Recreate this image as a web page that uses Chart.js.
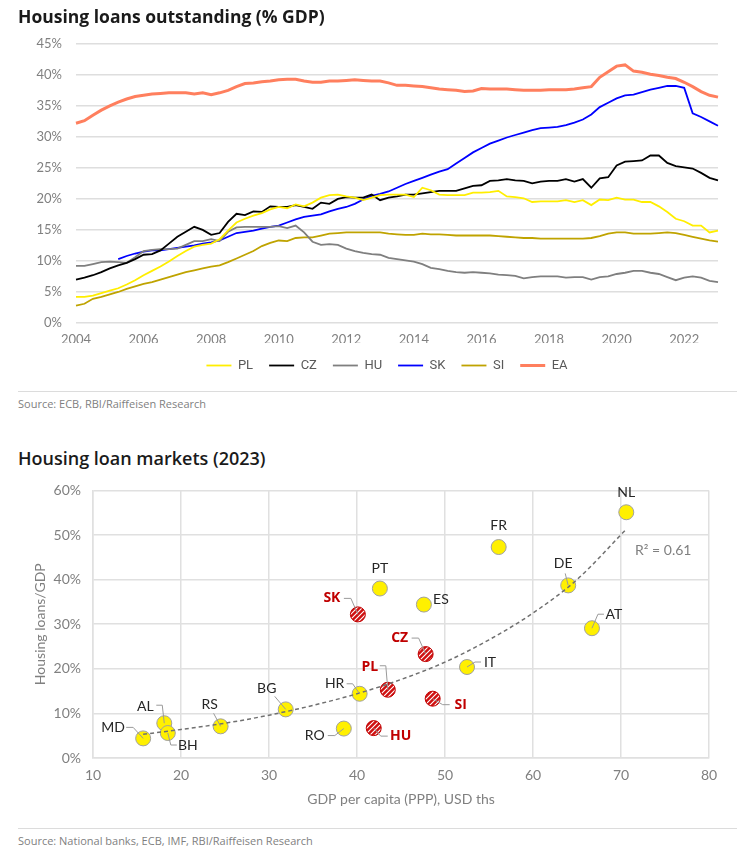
<!DOCTYPE html>
<html>
<head>
<meta charset="utf-8">
<script src="https://cdn.jsdelivr.net/npm/chart.js@4.4.1/dist/chart.umd.min.js"></script>
<style>
  body { margin: 0; width: 750px; height: 868px; background: #fff; position: relative; font-family: 'Open Sans', sans-serif; overflow: hidden; }
  .title { position: absolute; left: 18px; color: #1a1a1a; font-weight: 700; }
  .src { position: absolute; left: 18px; font-size: 11px; color: #7f7f7f; }
  .rule { position: absolute; left: 18px; width: 719px; height: 1px; background: #dcdcdc; }
  .box { position: absolute; left: 0; width: 750px; }
</style>
</head>
<body>
<div class="box" style="top:22px;height:360px;"><canvas id="lines"></canvas></div>
<div class="title" style="top:4px;font-size:17.5px;">Housing loans outstanding (% GDP)</div>
<div class="rule" style="top:391px;"></div>
<div class="src" style="top:396px;">Source: ECB, RBI/Raiffeisen Research</div>

<div class="title" style="top:446px;font-size:18px;font-weight:600;">Housing loan markets (2023)</div>
<div class="box" style="top:470px;height:345px;"><canvas id="scatter"></canvas></div>
<div class="rule" style="top:828px;"></div>
<div class="src" style="top:833px;">Source: National banks, ECB, IMF, RBI/Raiffeisen Research</div>

<script>
// quarterly values, 2004Q1 .. 2023Q1 (% of GDP)
const quarters = [];
for (let y = 2004; y <= 2023; y++) {
  for (let q = 1; q <= 4; q++) {
    if (y === 2023 && q > 1) break;
    quarters.push(y + 'Q' + q);
  }
}

const pl = [4.2, 4.2, 4.4, 4.8, 5.2, 5.6, 6.2, 6.9, 7.7, 8.4, 9.1, 9.9, 10.8, 11.6, 12.3, 12.6, 12.8, 13.5, 14.9, 16.2,
  16.8, 17.3, 17.7, 18.3, 18.7, 18.5, 19.1, 18.8, 19.4, 20.2, 20.6, 20.7, 20.4, 20.2, 19.8, 20.2, 20.6, 20.7, 20.7, 20.7,
  20.3, 21.8, 21.4, 20.7, 20.6, 20.6, 20.6, 21.0, 21.0, 21.1, 21.3, 20.4, 20.3, 20.1, 19.5, 19.6, 19.6, 19.6, 19.8, 19.5,
  19.8, 19.0, 19.9, 19.8, 20.2, 19.9, 19.9, 19.5, 19.5, 18.8, 17.9, 16.8, 16.4, 15.7, 15.7, 14.6, 14.9];
const cz = [7.0, 7.3, 7.7, 8.2, 8.8, 9.3, 9.7, 10.3, 11.0, 11.1, 11.7, 12.8, 13.9, 14.7, 15.5, 15.0, 14.2, 14.5, 16.3, 17.6,
  17.4, 18.0, 17.9, 18.8, 18.7, 18.7, 19.0, 18.7, 18.4, 19.4, 19.2, 20.0, 20.3, 20.2, 20.2, 20.7, 19.8, 20.2, 20.4, 20.7,
  20.7, 20.9, 21.1, 21.3, 21.3, 21.3, 21.7, 22.1, 22.2, 22.9, 23.0, 23.2, 23.0, 22.9, 22.5, 22.8, 22.9, 22.9, 23.2, 22.8,
  23.2, 21.8, 23.3, 23.5, 25.4, 26.0, 26.1, 26.2, 27.0, 27.0, 25.8, 25.3, 25.1, 24.9, 24.2, 23.4, 23.0];
const hu = [9.2, 9.2, 9.5, 9.8, 9.9, 9.8, 9.7, 10.6, 11.6, 11.8, 11.9, 11.9, 12.0, 12.6, 13.2, 13.2, 13.5, 13.2, 14.7, 15.4,
  15.5, 15.5, 15.5, 15.5, 15.6, 15.3, 15.7, 14.6, 13.1, 12.6, 12.7, 12.6, 12.0, 11.6, 11.3, 11.1, 11.0, 10.5, 10.3, 10.1,
  9.9, 9.5, 8.9, 8.7, 8.4, 8.2, 8.1, 8.2, 8.1, 8.0, 7.8, 7.7, 7.6, 7.2, 7.4, 7.5, 7.5, 7.5, 7.3, 7.4,
  7.4, 7.0, 7.4, 7.5, 7.9, 8.1, 8.4, 8.4, 8.1, 7.9, 7.4, 6.9, 7.3, 7.5, 7.3, 6.8, 6.6];
const sk = [null, null, null, null, null, 10.3, 10.8, 11.2, 11.5, 11.7, 11.7, 11.9, 12.1, 12.3, 12.5, 12.8, 13.0, 13.3, 13.9, 14.5,
  14.7, 14.9, 15.2, 15.5, 15.7, 16.2, 16.7, 17.1, 17.3, 17.5, 18.0, 18.4, 18.7, 19.2, 19.9, 20.5, 20.8, 21.2, 21.8, 22.4,
  22.9, 23.4, 23.9, 24.4, 24.8, 25.7, 26.6, 27.5, 28.2, 28.9, 29.4, 29.9, 30.3, 30.7, 31.1, 31.4, 31.5, 31.6, 31.9, 32.3,
  32.8, 33.6, 34.8, 35.5, 36.2, 36.7, 36.8, 37.2, 37.6, 37.9, 38.2, 38.2, 37.9, 33.8, 33.2, 32.5, 31.8];
const si = [2.8, 3.1, 3.9, 4.2, 4.6, 5.0, 5.5, 5.9, 6.3, 6.6, 7.0, 7.4, 7.8, 8.2, 8.5, 8.8, 9.1, 9.3, 9.8, 10.4,
  11.0, 11.6, 12.4, 12.9, 13.3, 13.2, 13.7, 13.8, 13.8, 14.1, 14.4, 14.5, 14.6, 14.6, 14.6, 14.6, 14.6, 14.4, 14.3, 14.2,
  14.2, 14.4, 14.3, 14.3, 14.2, 14.1, 14.1, 14.1, 14.1, 14.1, 14.0, 13.9, 13.8, 13.7, 13.7, 13.6, 13.6, 13.6, 13.6, 13.6,
  13.6, 13.7, 14.0, 14.4, 14.6, 14.6, 14.4, 14.4, 14.4, 14.5, 14.6, 14.5, 14.2, 13.9, 13.6, 13.3, 13.1];
const ea = [32.2, 32.6, 33.5, 34.3, 35.0, 35.6, 36.1, 36.5, 36.7, 36.9, 37.0, 37.1, 37.1, 37.1, 36.9, 37.1, 36.8, 37.1, 37.5, 38.1,
  38.6, 38.7, 38.9, 39.0, 39.2, 39.3, 39.3, 39.0, 38.8, 38.8, 39.0, 39.0, 39.1, 39.2, 39.1, 39.0, 39.0, 38.7, 38.3, 38.3,
  38.2, 38.1, 37.9, 37.7, 37.6, 37.5, 37.3, 37.4, 37.8, 37.7, 37.7, 37.7, 37.6, 37.5, 37.5, 37.5, 37.6, 37.6, 37.6, 37.7,
  37.9, 38.1, 39.6, 40.5, 41.4, 41.6, 40.6, 40.4, 40.1, 39.9, 39.6, 39.4, 38.8, 38.1, 37.3, 36.7, 36.4];

// scatter: GDP per capita (PPP, USD ths) vs housing loans/GDP (%)
const otherNames = ['MD', 'AL', 'BH', 'RS', 'BG', 'HR', 'RO', 'PT', 'ES', 'IT', 'FR', 'DE', 'AT', 'NL'];
const otherGdp   = [15.7, 18.1, 18.5, 24.5, 31.9, 40.3, 38.5, 42.6, 47.6, 52.5, 56.1, 64.0, 66.7, 70.6];
const otherLoans = [4.4, 7.8, 5.6, 7.1, 10.9, 14.4, 6.6, 38.0, 34.4, 20.4, 47.3, 38.7, 29.1, 55.1];
const ceeNames = ['SK', 'CZ', 'PL', 'SI', 'HU'];
const ceeGdp   = [40.1, 47.8, 43.5, 48.6, 41.9];
const ceeLoans = [32.2, 23.3, 15.3, 13.3, 6.7];
// exponential trend line
const trendGdp   = [15.7, 20, 25, 30, 35, 40, 45, 50, 55, 60, 65, 70.6];
const trendLoans = [5.3, 6.4, 7.8, 9.6, 11.8, 14.4, 17.6, 21.5, 26.5, 32.5, 40.0, 51.3];

const tickFont = { family: 'Lato, sans-serif', size: 13 };
const gray = '#808080';

function series(label, data, color, width) {
  return { label: label, data: data, borderColor: color, backgroundColor: color, borderWidth: width,
           pointRadius: 0, tension: 0 };
}

// centre the legend a bit left of the plot centre, as in the original
const legendUnderPlot = {
  id: 'legendUnderPlot',
  afterLayout(chart) {
    const l = chart.legend;
    l.left = chart.chartArea.left - 20;
    l.right = chart.chartArea.right;
    l.width = l.right - l.left;
  }
};

new Chart(document.getElementById('lines'), {
  type: 'line',
  data: {
    labels: quarters,
    datasets: [
      series('PL', pl, '#FFEE00', 1.8),
      series('CZ', cz, '#000000', 1.8),
      series('HU', hu, '#7F7F7F', 1.8),
      series('SK', sk, '#0000FF', 1.8),
      series('SI', si, '#BFA300', 1.8),
      series('EA', ea, '#FF7F5E', 3)
    ]
  },
  options: {
    responsive: true,
    maintainAspectRatio: false,
    animation: false,
    layout: { padding: { top: 9, right: 32, left: 0, bottom: 0 } },
    plugins: {
      tooltip: { enabled: false },
      legend: {
        position: 'bottom',
        labels: {
          usePointStyle: true,
          pointStyle: 'line',
          pointStyleWidth: 25,
          padding: 16,
          color: '#595959',
          font: { family: "'Liberation Sans Narrow', 'Roboto', sans-serif", size: 13 }
        }
      }
    },
    scales: {
      x: {
        grid: { display: false },
        border: { display: false },
        afterFit: s => { s.height = 20; },
        ticks: {
          autoSkip: false, maxRotation: 0, padding: 1, color: gray, font: tickFont,
          callback: function (v) {
            const lab = this.getLabelForValue(v);
            const yr = +lab.slice(0, 4);
            return lab.endsWith('Q1') && yr % 2 === 0 ? String(yr) : null;
          }
        }
      },
      y: {
        min: 0, max: 45,
        afterFit: s => { s.width = 76; },
        border: { display: false },
        grid: { color: '#dedede', lineWidth: 1.5, drawTicks: false },
        ticks: { stepSize: 5, padding: 14, color: gray, font: tickFont, callback: v => v + '%' }
      }
    }
  },
  plugins: [legendUnderPlot]
});

// hatched fill for the CEE points
function hatch() {
  const c = document.createElement('canvas');
  c.width = 5; c.height = 5;
  const g = c.getContext('2d');
  g.fillStyle = '#D01010';
  g.fillRect(0, 0, 5, 5);
  g.strokeStyle = '#ffffff';
  g.lineWidth = 1.1;
  g.beginPath();
  g.moveTo(-1, 6); g.lineTo(6, -1);
  g.moveTo(-1, 1); g.lineTo(1, -1);
  g.moveTo(4, 6); g.lineTo(6, 4);
  g.stroke();
  return g.createPattern(c, 'repeat');
}

// label offsets and leader lines relative to each point (pixels)
const labelPos = {
  MD: { dx: -30, dy: -11, lead: [[-17, -11], [-10, -11]] },
  AL: { dx: -19, dy: -17, lead: [[-8, -18], [-2, -18]] },
  BH: { dx: 20, dy: 12, lead: [[9, 12], [3, 12]] },
  RS: { dx: -11, dy: -22, lead: [[-7, -13]] },
  BG: { dx: -19, dy: -21, lead: [[-11, -13]] },
  HR: { dx: -25, dy: -10, lead: [[-13, -10], [-7, -10]] },
  RO: { dx: -29, dy: 7, lead: [[-16, 7], [-9, 7]] },
  PT: { dx: 0, dy: -20 },
  ES: { dx: 17, dy: -5 },
  IT: { dx: 23, dy: -5, lead: [[14, -5], [8, -5]] },
  FR: { dx: 0, dy: -22 },
  DE: { dx: -5, dy: -22, lead: [[-3, -12]] },
  AT: { dx: 22, dy: -14, lead: [[12, -14], [6, -14]] },
  NL: { dx: 0, dy: -20 },
  SK: { dx: -26, dy: -16, lead: [[-14, -16], [-7, -16]] },
  CZ: { dx: -26, dy: -16, lead: [[-14, -16], [-7, -16]] },
  PL: { dx: -18, dy: -23, lead: [[-8, -24], [-2, -24]] },
  SI: { dx: 28, dy: 6, lead: [[17, 6], [10, 6]] },
  HU: { dx: 27, dy: 8, lead: [[14, 8], [7, 8]] }
};

const pointLabels = {
  id: 'pointLabels',
  afterDatasetsDraw(chart) {
    const ctx = chart.ctx;
    ctx.save();
    chart.data.datasets.forEach((ds, di) => {
      if (!ds.names) return;
      const meta = chart.getDatasetMeta(di);
      ds.names.forEach((name, i) => {
        const p = meta.data[i];
        const pos = labelPos[name];
        if (pos.lead) {
          ctx.strokeStyle = '#9a9a9a';
          ctx.lineWidth = 1;
          ctx.beginPath();
          ctx.moveTo(p.x + pos.lead[0][0], p.y + pos.lead[0][1]);
          for (let k = 1; k < pos.lead.length; k++) ctx.lineTo(p.x + pos.lead[k][0], p.y + pos.lead[k][1]);
          ctx.lineTo(p.x, p.y);
          ctx.stroke();
        }
        ctx.fillStyle = ds.labelColor;
        ctx.font = ds.labelFont;
        ctx.textAlign = 'center';
        ctx.textBaseline = 'middle';
        ctx.fillText(name, p.x + pos.dx, p.y + pos.dy);
      });
    });
    ctx.fillStyle = gray;
    ctx.font = '14px Lato, sans-serif';
    ctx.textAlign = 'center';
    ctx.textBaseline = 'middle';
    ctx.fillText('R² = 0.61', chart.scales.x.getPixelForValue(74.8), chart.scales.y.getPixelForValue(46.5));
    ctx.restore();
  }
};

new Chart(document.getElementById('scatter'), {
  type: 'scatter',
  data: {
    datasets: [
      {
        label: 'trend', data: trendGdp.map((x, i) => ({ x: x, y: trendLoans[i] })),
        showLine: true, borderColor: '#707070', borderWidth: 1.5, borderDash: [4, 3],
        pointRadius: 0, cubicInterpolationMode: 'monotone', order: 0
      },
      {
        label: 'others', names: otherNames, labelColor: '#262626', labelFont: '14px Lato, sans-serif',
        data: otherGdp.map((x, i) => ({ x: x, y: otherLoans[i] })),
        pointRadius: 7.5, backgroundColor: '#FFF000', borderColor: '#a0a0a0', borderWidth: 1, order: 1
      },
      {
        label: 'cee', names: ceeNames, labelColor: '#C00000', labelFont: "bold 14px 'Open Sans', sans-serif",
        data: ceeGdp.map((x, i) => ({ x: x, y: ceeLoans[i] })),
        pointRadius: 7.5, backgroundColor: hatch(), borderColor: '#C00000', borderWidth: 1, order: 1
      }
    ]
  },
  options: {
    responsive: true,
    maintainAspectRatio: false,
    animation: false,
    layout: { padding: { top: 15, right: 41, left: 28, bottom: 0 } },
    plugins: { legend: { display: false }, tooltip: { enabled: false } },
    scales: {
      x: {
        type: 'linear', min: 10, max: 80,
        afterFit: s => { s.height = 57; },
        grid: { color: '#e0e0e0', lineWidth: 1.5, drawTicks: false },
        border: { color: '#e0e0e0', width: 1.5 },
        ticks: { stepSize: 10, padding: 9, color: gray, font: { family: 'Lato, sans-serif', size: 14 } },
        title: { display: true, text: 'GDP per capita (PPP), USD ths', color: gray,
                 font: { family: 'Lato, sans-serif', size: 14 }, padding: { top: 4, bottom: 7 } }
      },
      y: {
        min: 0, max: 60,
        afterFit: s => { s.width = 65; },
        grid: { color: '#e0e0e0', lineWidth: 1.5, drawTicks: false },
        border: { color: '#e0e0e0', width: 1.5 },
        ticks: { stepSize: 10, padding: 12, color: gray, font: { family: 'Lato, sans-serif', size: 14 },
                 callback: v => v + '%' },
        title: { display: true, text: 'Housing loans/GDP', color: gray,
                 font: { family: 'Lato, sans-serif', size: 14 } }
      }
    }
  },
  plugins: [pointLabels]
});
</script>
</body>
</html>
